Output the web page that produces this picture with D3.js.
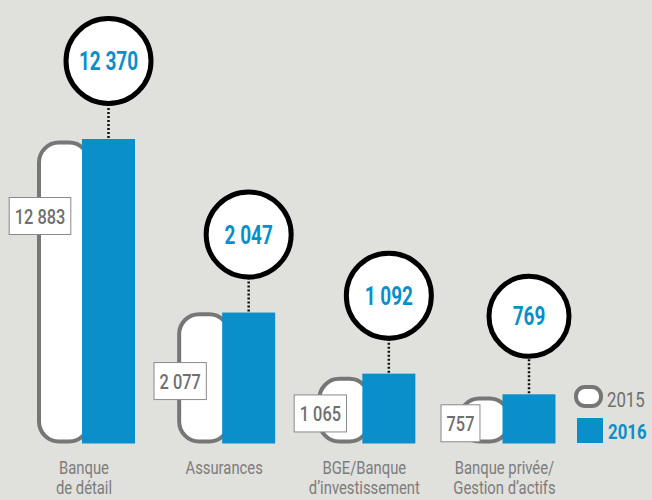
<!DOCTYPE html>
<html>
<head>
<meta charset="utf-8">
<script src="https://cdnjs.cloudflare.com/ajax/libs/d3/7.8.5/d3.min.js"></script>
<style>
  body { margin: 0; background: #e0e0dc; }
  svg { display: block; font-family: Roboto, "Open Sans", sans-serif; }
</style>
</head>
<body>
<svg width="652" height="500"></svg>
<script>
var categories = ["Banque de détail", "Assurances", "BGE/Banque d\u2019investissement", "Banque privée/Gestion d\u2019actifs"]
var catLines = [["Banque", "de détail"], ["Assurances"], ["BGE/Banque", "d\u2019investissement"], ["Banque privée/", "Gestion d\u2019actifs"]]
var values2015 = [12883, 2077, 1065, 757]
var values2016 = [12370, 2047, 1092, 769]
var labels2015 = ["12 883", "2 077", "1 065", "757"]
var labels2016 = ["12 370", "2 047", "1 092", "769"]
var seriesNames = ["2015", "2016"]

var blue = "#0a8fca", grey = "#767676", textGrey = "#6f6f6f"

var svg = d3.select("svg")

// the original uses a condensed face, so squash text horizontally
function narrowText(parent, px, py, str, k) {
  return parent.append("text")
    .attr("transform", "translate(" + px + "," + py + ") scale(" + k + ",1)")
    .text(str)
}

// bars start at the blue bar's left edge; big bar is cut off (scale clamped)
var x = d3.scalePoint().domain(categories).range([82, 502.5])
var y = d3.scaleLinear().domain([0, 4760]).range([443.5, 139]).clamp(true)
var barW = 53
var gap = 78

var groups = svg.append("g").selectAll(".grp")
  .data(categories)
  .enter().append("g")
  .attr("class", "grp")

// 2015 rounded bars (behind)
groups.append("rect")
  .attr("x", function(d) { return x(d) - 43 })
  .attr("y", function(d, i) { return y(values2015[i]) + 3.5 })
  .attr("width", 50)
  .attr("height", function(d, i) { return y(0) - 2 - y(values2015[i]) - 3.5 })
  .attr("rx", function(d, i) { return Math.min(20, (y(0) - y(values2015[i])) / 2 - 3) })
  .attr("fill", "#fff")
  .attr("stroke", grey)
  .attr("stroke-width", 4)

// 2016 bars
groups.append("rect")
  .attr("x", function(d) { return x(d) })
  .attr("y", function(d, i) { return y(values2016[i]) })
  .attr("width", barW)
  .attr("height", function(d, i) { return y(0) - y(values2016[i]) })
  .attr("fill", blue)

// dotted leader
groups.append("line")
  .attr("x1", function(d) { return x(d) + barW / 2 })
  .attr("x2", function(d) { return x(d) + barW / 2 })
  .attr("y1", function(d, i) { return y(values2016[i]) - gap + 43 })
  .attr("y2", function(d, i) { return y(values2016[i]) })
  .attr("stroke", "#111")
  .attr("stroke-width", 2.5)
  .attr("stroke-dasharray", "2 2")

groups.append("circle")
  .attr("cx", function(d) { return x(d) + barW / 2 })
  .attr("cy", function(d, i) { return y(values2016[i]) - gap })
  .attr("r", function(d, i) { return labels2016[i].length > 3 ? 42.5 : 40 })
  .attr("fill", "#fff")
  .attr("stroke", "#000")
  .attr("stroke-width", 5)

groups.each(function(d, i) {
  var grp = d3.select(this)

  // 2016 value in the circle
  narrowText(grp, x(d) + barW / 2, y(values2016[i]) - gap + 9, labels2016[i], 0.76)
    .attr("text-anchor", "middle")
    .attr("font-size", "25px")
    .attr("font-weight", "bold")
    .attr("fill", blue)

  // boxed 2015 value
  var top = y(values2015[i]), bot = y(0)
  var cx = x(d) - 42
  var cy = Math.min(top + 77, (top + bot) / 2 + 4)
  var box = grp.append("rect")
    .attr("fill", "#fff")
    .attr("stroke", "#8a8a8a")
    .attr("stroke-width", 1)
  var t = narrowText(grp, cx, cy + 7.5, labels2015[i], 0.78)
    .attr("text-anchor", "middle")
    .attr("font-size", "21px")
    .attr("font-weight", "500")
    .attr("fill", textGrey)
  var w = t.node().getComputedTextLength() * 0.78 + 11
  box.attr("x", cx - w / 2).attr("y", cy - 18.5).attr("width", w).attr("height", 37)

  // category label
  catLines[i].forEach(function(s, j) {
    narrowText(grp, x(d) + 2, 474 + j * 20, s, 0.8)
      .attr("text-anchor", "middle")
      .attr("font-size", "18.5px")
      .attr("fill", "#7c7c7c")
  })
})

// legend
var leg = svg.append("g").attr("transform", "translate(576,387)")
leg.append("rect")
  .attr("x", 0).attr("y", 0).attr("width", 25).attr("height", 19)
  .attr("rx", 9)
  .attr("fill", "#fff").attr("stroke", grey).attr("stroke-width", 4)
narrowText(leg, 31, 20, seriesNames[0], 0.8)
  .attr("font-size", "21px").attr("fill", textGrey)
leg.append("rect")
  .attr("x", 1).attr("y", 31).attr("width", 26).attr("height", 25)
  .attr("fill", blue)
narrowText(leg, 32, 52, seriesNames[1], 0.8)
  .attr("font-size", "21px").attr("font-weight", "bold").attr("fill", blue)
</script>
</body>
</html>
